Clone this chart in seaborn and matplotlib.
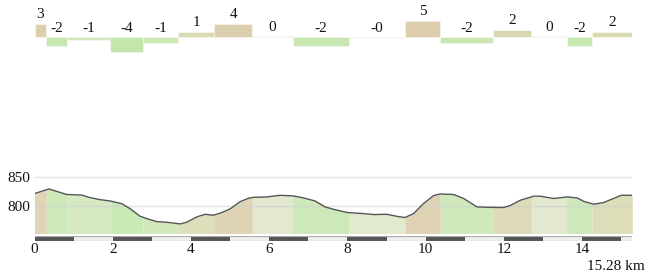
import numpy as np
import pandas as pd
import matplotlib
matplotlib.use("Agg")
import matplotlib.pyplot as plt
from matplotlib.colors import LinearSegmentedColormap, Normalize
import seaborn as sns

# ---- data ----
seg_bounds = [0, 0.3, 0.82, 1.93, 2.77, 3.66, 4.6, 5.57, 6.6, 8.03, 9.48,
              10.37, 11.73, 12.7, 13.6, 14.25, 15.28]
seg_grades = [3.9, -2.7, -0.8, -4.2, -1.6, 1.5, 3.9, 0.1, -2.6, -0.2, 4.9,
              -1.8, 2.1, 0.1, -2.6, 1.7]
seg_labels = ['3', '-2', '-1', '-4', '-1', '1', '4', '0', '-2', '-0', '5',
              '-2', '2', '0', '-2', '2']

dist_km = [0.0, 0.37, 0.82, 1.2, 1.42, 1.67, 1.93, 2.23, 2.44, 2.7, 2.87, 3.12,
           3.38, 3.72, 3.89, 4.15, 4.36, 4.57, 4.79, 5.0, 5.26, 5.47, 5.6, 5.94,
           6.28, 6.62, 6.88, 7.17, 7.43, 7.65, 8.0, 8.41, 8.67, 9.0, 9.26, 9.47,
           9.69, 9.94, 10.2, 10.37, 10.71, 10.97, 11.31, 11.57, 11.99, 12.16,
           12.42, 12.76, 12.93, 13.27, 13.62, 13.87, 14.04, 14.3, 14.55, 14.8,
           15.0, 15.28]
elev_m = [821.6, 829.6, 820, 819, 814.6, 811, 808.7, 804, 795.4, 782, 778, 772.8,
          771.6, 768.7, 771.6, 780.9, 785.5, 783.8, 788.5, 794.8, 807.6, 813.4,
          815, 815.7, 818.6, 817.4, 814, 808.7, 798.3, 794, 788.5, 786.7, 785,
          785.5, 782, 779.8, 786.7, 804, 818, 820.9, 820, 813, 798.3, 797.7,
          797.2, 800.7, 810, 817, 817, 813, 815.7, 814, 808, 803, 806, 813,
          818.6, 818.6]

x_ticks = [0, 2, 4, 6, 8, 10, 12, 14]
y_ticks = [800, 850]
total_label = "15.28 km"

# ---- style ----
sns.set_style("white")
plt.rcParams['font.family'] = ['Liberation Serif', 'DejaVu Serif']
FS = 11

W, H = 650, 274
fig = plt.figure(figsize=(W / 100, H / 100), dpi=100)


def px_rect(x0, ytop, x1, ybot):
    return [x0 / W, 1 - ybot / H, (x1 - x0) / W, (ybot - ytop) / H]


X0, X1 = 34.5, 632.3
XMAX = seg_bounds[-1]

cmap = LinearSegmentedColormap.from_list(
    "grade", [(0.0, '#c2e6ab'), (0.33, '#cde7b6'), (0.444, '#e0e8cc'),
              (0.56, '#d8dcb2'), (0.72, '#dad5b0'), (0.85, '#dccfae'),
              (1.0, '#dccdab')])
norm = Normalize(-4, 5)

# ---- top grade strip ----
ax_top = fig.add_axes(px_rect(X0, 0, X1, 60))
base_px = 37.3
scale = 3.4
ax_top.set_ylim(-(60 - base_px) / scale, base_px / scale)
ax_top.set_xlim(0, XMAX)
starts = np.array(seg_bounds[:-1])
widths = np.diff(seg_bounds)
grades = np.array(seg_grades)
cols = [cmap(norm(g)) for g in grades]
heights = np.where(np.abs(grades) < 0.3, np.sign(grades + 1e-9) * 0.3, grades)
ax_top.bar(starts, heights, width=widths, align='edge', color=cols,
           edgecolor=(1, 1, 1, 0.45), linewidth=0.8)
for s, w, g, lab in zip(starts, widths, grades, seg_labels):
    y = max(g, 0)
    ax_top.annotate(lab, (s + w / 2, y), xytext=(0, 2.0),
                    textcoords='offset points', ha='center', va='bottom',
                    fontsize=FS, color='#111', annotation_clip=False)
ax_top.axis('off')

# ---- elevation profile ----
ax = fig.add_axes(px_rect(X0, 168, X1, 233.5))
ymin = 752
ax.set_ylim(ymin, ymin + (233.5 - 168) / 0.574)
ax.set_xlim(0, XMAX)
d = np.array(dist_km)
e = np.array(elev_m)
for a, b, g in zip(seg_bounds[:-1], seg_bounds[1:], seg_grades):
    inside = (d > a) & (d < b)
    xs = np.concatenate([[a], d[inside], [b]])
    ys = np.interp(xs, d, e)
    ax.fill_between(xs, ymin, ys, color=cmap(norm(g)), alpha=0.88,
                    linewidth=0, zorder=1)
df = pd.DataFrame({"km": dist_km, "elev": elev_m})
sns.lineplot(data=df, x="km", y="elev", ax=ax, color='#555555', lw=1.0,
             zorder=3)
for yv in y_ticks:
    ax.axhline(yv, color='#cfcfcf', lw=1.0, alpha=0.6, zorder=2)
ax.set_xticks(x_ticks)
ax.set_yticks(y_ticks)
ax.set_xlabel("")
ax.set_ylabel("")
ax.tick_params(axis='x', length=0, pad=7, labelsize=FS, colors='#111')
ax.tick_params(axis='y', length=0, pad=3.0, labelsize=FS, colors='#111')
for sp in ax.spines.values():
    sp.set_visible(False)

# ---- km scale bar ----
ax_bar = fig.add_axes(px_rect(X0, 235.5, X1, 240.8))
ax_bar.set_xlim(0, XMAX)
ax_bar.set_ylim(0, 1)
ax_bar.axvspan(0, XMAX, color='#eeeeee', zorder=0)
km_starts = np.arange(0, int(XMAX) + 1, 2)
ax_bar.bar(km_starts, 0.72, width=1, align='edge', bottom=0.05,
           color='#555555', linewidth=0, zorder=2)
ax_bar.axhline(0.97, color='#aaaaaa', lw=0.8, zorder=3)
ax_bar.axhline(0.03, color='#aaaaaa', lw=0.8, zorder=3)
ax_bar.axis('off')

fig.text(645 / W, 1 - 266 / H, total_label, ha='right', va='center',
         fontsize=FS, color='#111')

fig.savefig("out.png", dpi=100)
